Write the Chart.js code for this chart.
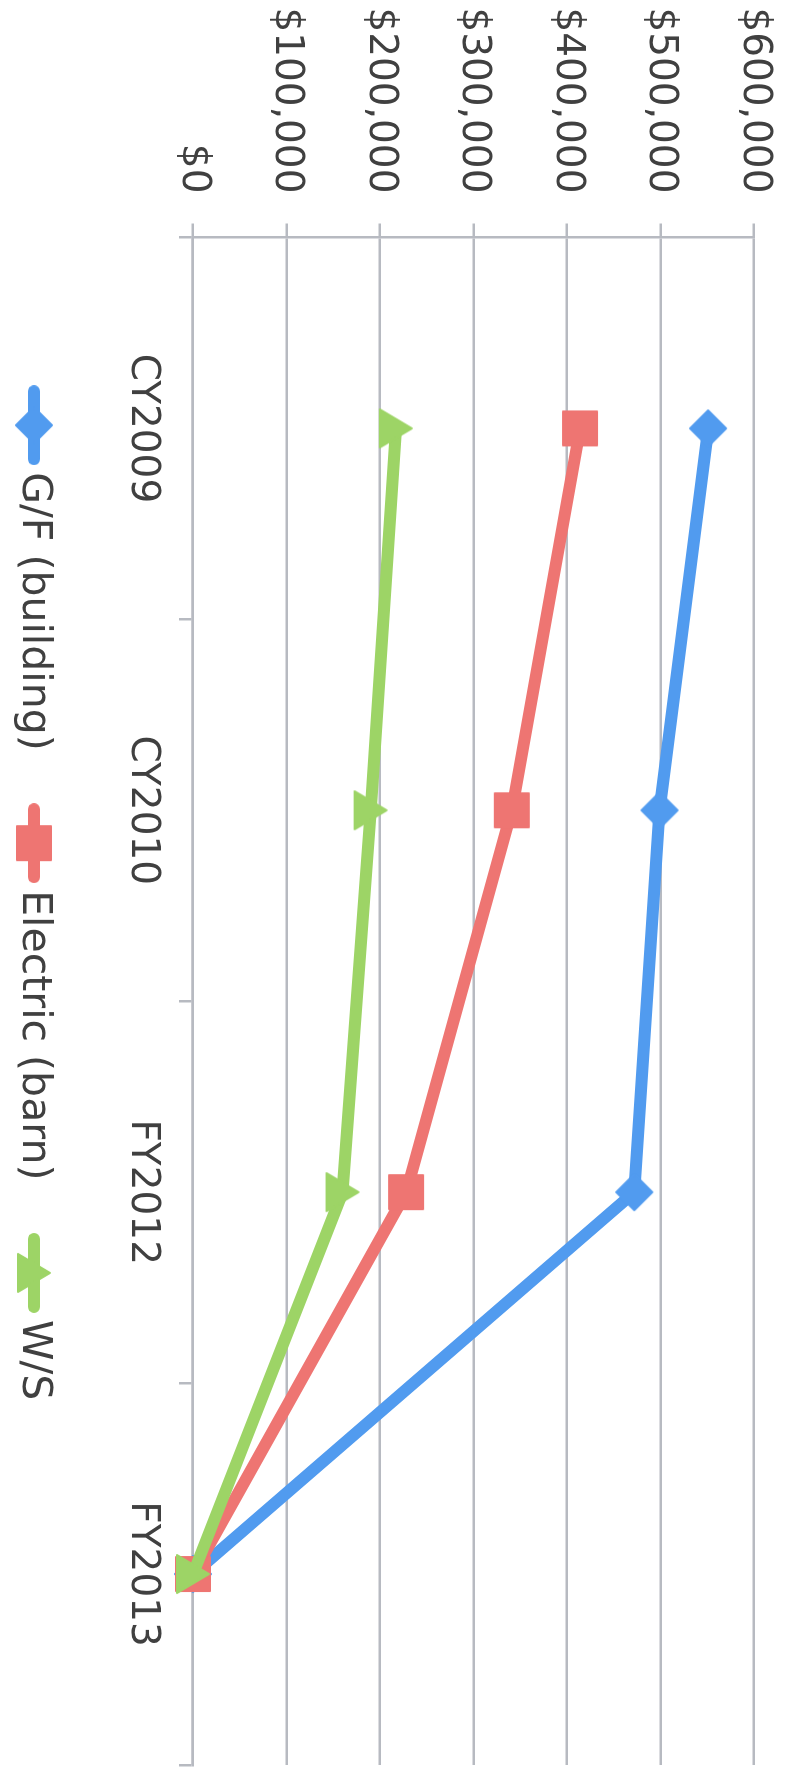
<!DOCTYPE html>
<html><head><meta charset="utf-8">
<script src="https://cdn.jsdelivr.net/npm/chart.js@4.4.1/dist/chart.umd.min.js"></script>
<style>
html,body{margin:0;padding:0;background:#fff;width:792px;height:1775px;overflow:hidden;}
#wrap{position:absolute;left:0;top:0;width:1775px;height:792px;transform-origin:0 0;transform:translate(792px,0) rotate(90deg);}
canvas{display:block;}
</style></head><body>
<div id="wrap"><canvas id="c" width="1775" height="792"></canvas></div>
<script>
// ---- data ----
const categories = ['CY2009', 'CY2010', 'FY2012', 'FY2013'];
const gfBuilding = [551000, 499000, 472000, 0];
const electricBarn = [414000, 341000, 228000, 0];
const waterSewer = [217000, 190000, 160000, 0];
const seriesNames = ['G/F (building)', 'Electric (barn)', 'W/S'];
const valueTickLabels = ['$0', '$100,000', '$200,000', '$300,000', '$400,000', '$500,000', '$600,000'];

// ---- styles ----
const BLUE = '#519BEF', RED = '#EE7572', GREEN = '#9DD466';
const GRID = '#b7bac1', TEXT = '#404040';
const FONT = 'DejaVu Sans';

function marker(shape, color, lineLen) {
  const S = 42;
  const w = lineLen || S, h = S;
  const c = document.createElement('canvas');
  c.width = w; c.height = h;
  const g = c.getContext('2d');
  g.fillStyle = color; g.strokeStyle = color;
  if (lineLen) {
    g.lineWidth = 12; g.lineCap = 'round';
    g.beginPath(); g.moveTo(6, h / 2); g.lineTo(w - 6, h / 2); g.stroke();
  }
  const cx = w / 2, cy = h / 2;
  g.lineJoin = 'round'; g.lineWidth = 2;
  g.beginPath();
  if (shape === 'rect') { g.rect(cx - 17, cy - 17, 34, 34); }
  else if (shape === 'diamond') { g.moveTo(cx, cy - 18); g.lineTo(cx + 18, cy); g.lineTo(cx, cy + 18); g.lineTo(cx - 18, cy); }
  else { g.moveTo(cx, cy - 16); g.lineTo(cx + 19, cy + 16); g.lineTo(cx - 19, cy + 16); }
  g.closePath(); g.fill(); g.stroke();
  return c;
}
const shapes = ['diamond', 'rect', 'triangle'];
const colors = [BLUE, RED, GREEN];
const pointImgs = shapes.map((s, i) => marker(s, colors[i]));
const legendImgs = shapes.map((s, i) => marker(s, colors[i], 80));
const seriesData = [gfBuilding, electricBarn, waterSewer];

const datasets = seriesData.map((d, i) => ({
  label: seriesNames[i],
  data: d,
  borderColor: colors[i],
  backgroundColor: colors[i],
  borderWidth: 12,
  borderJoinStyle: 'round',
  borderCapStyle: 'round',
  pointStyle: pointImgs[i],
  pointRadius: 18,
  tension: 0,
  clip: false,
  order: 2 - i
}));

// shift the legend slightly along the category direction, as in the original
const legendShift = {
  id: 'legendShift',
  afterLayout(chart) {
    if (chart.legend) { chart.legend.left += 17; chart.legend.right += 17; }
  }
};

new Chart(document.getElementById('c'), {
  type: 'line',
  data: { labels: categories, datasets },
  plugins: [legendShift],
  options: {
    responsive: false,
    animation: false,
    devicePixelRatio: 1,
    events: [],
    layout: { autoPadding: false, padding: { top: 38, right: 10, bottom: 3.5, left: 0 } },
    plugins: {
      tooltip: { enabled: false },
      legend: {
        position: 'bottom',
        labels: {
          usePointStyle: true,
          pointStyleWidth: 53,
          padding: 66,
          color: TEXT,
          font: { family: FONT, size: 41 },
          generateLabels: (chart) => chart.data.datasets.map((ds, i) => ({
            text: ds.label, pointStyle: legendImgs[i], fillStyle: ds.borderColor,
            strokeStyle: ds.borderColor, lineWidth: 0, hidden: false, datasetIndex: i, fontColor: TEXT
          }))
        }
      }
    },
    scales: {
      x: {
        type: 'category',
        offset: true,
        grid: { offset: true, drawOnChartArea: false, drawTicks: true, tickLength: 14, color: GRID, lineWidth: 2.5 },
        border: { display: true, color: GRID, width: 2.5 },
        ticks: { color: TEXT, font: { family: FONT, size: 39 }, padding: 13, maxRotation: 0, autoSkip: false },
        afterFit: (s) => { s.height = 72.5; s.paddingLeft = 0; s.paddingRight = 0; }
      },
      y: {
        min: 0, max: 600000,
        ticks: { stepSize: 100000, color: TEXT, font: { family: FONT, size: 39 }, padding: 30,
          callback: (v, i) => valueTickLabels[i] },
        grid: { color: GRID, lineWidth: 2.5, tickLength: 14 },
        border: { display: true, color: GRID, width: 2.5 },
        afterFit: (s) => { s.width = 237.5; s.paddingTop = 0; s.paddingBottom = 0; }
      }
    }
  }
});
</script>
</body></html>
